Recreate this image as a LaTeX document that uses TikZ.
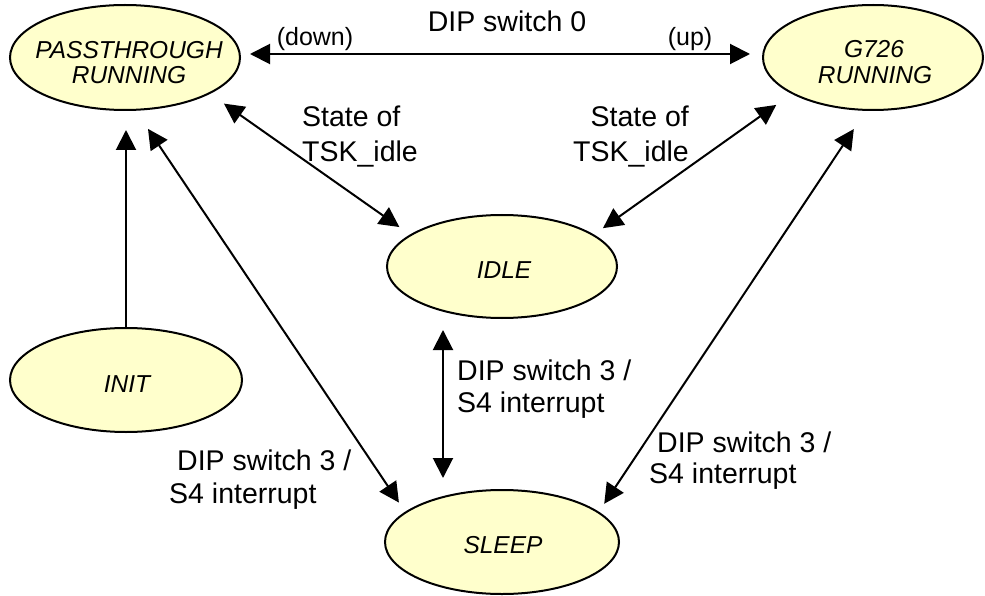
\documentclass[tikz,border=0pt]{standalone}
\usepackage{fontspec}
\setmainfont{Liberation Sans}
\usetikzlibrary{arrows.meta,shapes.geometric}
\definecolor{statefill}{RGB}{255,255,204}

\begin{document}
\begin{tikzpicture}[x=1pt,y=-1pt,
  state/.style={ellipse, draw=black, line width=2pt, fill=statefill,
                inner sep=0pt, outer sep=0pt},
  statetext/.style={font=\fontsize{24.5}{24}\selectfont\itshape, anchor=base, inner sep=0pt},
  lbl/.style={font=\fontsize{28.5}{30}\selectfont, inner sep=0pt},
  lblsm/.style={font=\fontsize{25}{27}\selectfont, inner sep=0pt, anchor=base},
  tip/.tip={Triangle[length=20pt,width=20pt]},
  both/.style={line width=2pt, tip-tip},
  single/.style={line width=2pt, -tip},
]
\useasboundingbox (0,0) rectangle (985,596);

% states
\node[state, minimum width=230pt, minimum height=105pt] (P) at (125,57.5) {};
\node[state, minimum width=220pt, minimum height=105pt] (G) at (873,57.5) {};
\node[state, minimum width=230pt, minimum height=103pt] (I) at (502,266.5) {};
\node[state, minimum width=232pt, minimum height=104pt] (N) at (126,380) {};
\node[state, minimum width=234pt, minimum height=104pt] (S) at (502,542) {};

% state names
\node[statetext] (Pt1) at (129,58.5) {PASSTHROUGH};
\node[statetext] (Pt2) at (129,84) {RUNNING};
\node[statetext] (Gt1) at (874,58) {G726};
\node[statetext] (Gt2) at (875,83.5) {RUNNING};
\node[statetext] (It)  at (504,278) {IDLE};
\node[statetext] (Nt)  at (127,392) {INIT};
\node[statetext] (St)  at (503,553) {SLEEP};

% transitions
\draw[both, shorten <=10pt, shorten >=13pt] ([yshift=3.5pt]P.east) -- ([yshift=3.5pt]G.west);
\draw[both, shorten <=18pt, shorten >=14pt] (P.-23.1) -- (I.161.8);
\draw[both, shorten <=20pt, shorten >=12pt] (G.204.3) -- (I.19.1);
\draw[single, shorten >=20pt] (N.north) -- (N.north |- P.south);
\draw[both, shorten <=23pt, shorten >=12pt] (P.-79) -- (S.163.5);
\draw[both, shorten <=12pt, shorten >=12pt] ([xshift=-59pt]I.south) -- ([xshift=-59pt]S.north);
\draw[both, shorten <=23pt, shorten >=10.5pt] (G.-97.8) -- (S.17.7);

% transition labels
\node[lbl, anchor=base] (L0) at (507,32) {DIP switch 0};
\node[lblsm] (Ldown) at (315,46) {(down)};
\node[lblsm] (Lup) at (690,46) {(up)};

\node[lbl, anchor=base west] (La1) at (302,127) {State of};
\node[lbl, anchor=base west] (La2) at (302,162) {TSK\_idle};
\node[lbl, anchor=base east] (Lb1) at (689,127) {State of};
\node[lbl, anchor=base east] (Lb2) at (689,162) {TSK\_idle};

\node[lbl, anchor=base west] (Lc1) at (457,380) {DIP switch 3 /};
\node[lbl, anchor=base west] (Lc2) at (457,412) {S4 interrupt};

\node[lbl, anchor=base west] (Ld1) at (177,470) {DIP switch 3 /};
\node[lbl, anchor=base west] (Ld2) at (169,503) {S4 interrupt};

\node[lbl, anchor=base west] (Le1) at (657,452) {DIP switch 3 /};
\node[lbl, anchor=base west] (Le2) at (649,483) {S4 interrupt};
\end{tikzpicture}
\end{document}
